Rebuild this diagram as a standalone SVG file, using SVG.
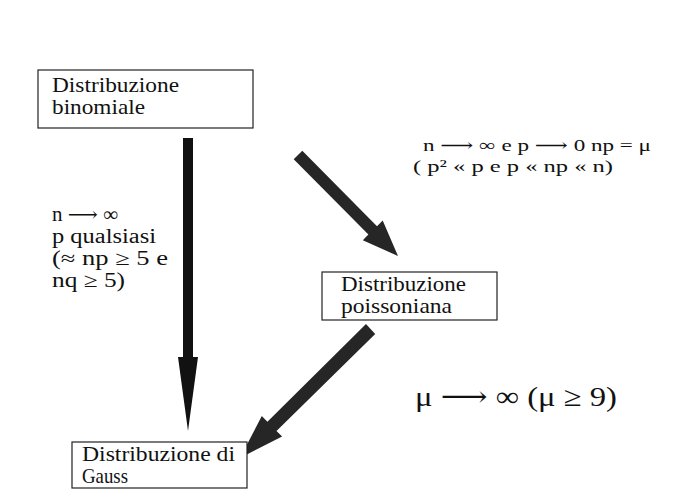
<svg xmlns="http://www.w3.org/2000/svg" width="677" height="502" viewBox="0 0 677 502">
<style>
.box{fill:#fff;stroke:#222;stroke-width:1.2}
.t{font-family:"Liberation Serif","DejaVu Serif",serif;font-size:21px;fill:#111}
.lbl{font-family:"Liberation Serif","DejaVu Serif",serif;font-size:20px;fill:#111}
.tr{font-family:"Liberation Serif","DejaVu Serif",serif;font-size:17px;fill:#111}
.big{font-family:"Liberation Serif","DejaVu Serif",serif;font-size:28px;fill:#111}
.arr{fill:#111}
.arrd{fill:#262626}
</style>
<rect width="677" height="502" fill="#fff"/>
<g id="connectors">
<polygon class="arr" points="183,138 193,138 193,357 198,357 188,431 178,357 183,357"/>
<polygon class="arrd" points="302.3,150.8 377,226.2 382.7,220.5 398,256 362.8,240.3 368.4,234.6 293.7,159.2"/>
<polygon class="arrd" points="366,324 267.4,421.7 261.8,416.1 240,458 282.1,436.5 276.5,430.9 375.2,334"/>
</g>
<g id="node-binomiale">
<rect class="box" x="38" y="70" width="215" height="58"/>
<text class="t" x="52" y="92" textLength="127" lengthAdjust="spacingAndGlyphs">Distribuzione</text>
<text class="t" x="52" y="114" textLength="93" lengthAdjust="spacingAndGlyphs">binomiale</text>
</g>
<g id="node-poissoniana">
<rect class="box" x="322" y="272" width="175" height="48"/>
<text class="t" x="341" y="291" textLength="125" lengthAdjust="spacingAndGlyphs">Distribuzione</text>
<text class="t" x="341" y="313" textLength="111" lengthAdjust="spacingAndGlyphs">poissoniana</text>
</g>
<g id="node-gauss">
<rect class="box" x="72" y="442" width="175" height="46"/>
<text class="t" x="82" y="461" textLength="153" lengthAdjust="spacingAndGlyphs">Distribuzione di</text>
<text class="t" x="82" y="483" textLength="46" lengthAdjust="spacingAndGlyphs">Gauss</text>
</g>
<g id="labels">
<text class="lbl" x="52" y="221" textLength="66" lengthAdjust="spacingAndGlyphs">n ⟶ ∞</text>
<text class="lbl" x="52" y="243" textLength="104" lengthAdjust="spacingAndGlyphs">p qualsiasi</text>
<text class="lbl" x="52" y="265" textLength="116" lengthAdjust="spacingAndGlyphs">(≈ np ≥ 5 e</text>
<text class="lbl" x="52" y="287" textLength="73" lengthAdjust="spacingAndGlyphs">nq ≥ 5)</text>
<text class="tr" x="423" y="151" textLength="228" lengthAdjust="spacingAndGlyphs">n ⟶ ∞ e p ⟶ 0  np = μ</text>
<text class="tr" x="413" y="172" textLength="200" lengthAdjust="spacingAndGlyphs">( p² « p e p « np « n)</text>
<text class="big" x="415" y="406" textLength="202" lengthAdjust="spacingAndGlyphs">μ ⟶ ∞  (μ ≥ 9)</text>
</g>
</svg>
